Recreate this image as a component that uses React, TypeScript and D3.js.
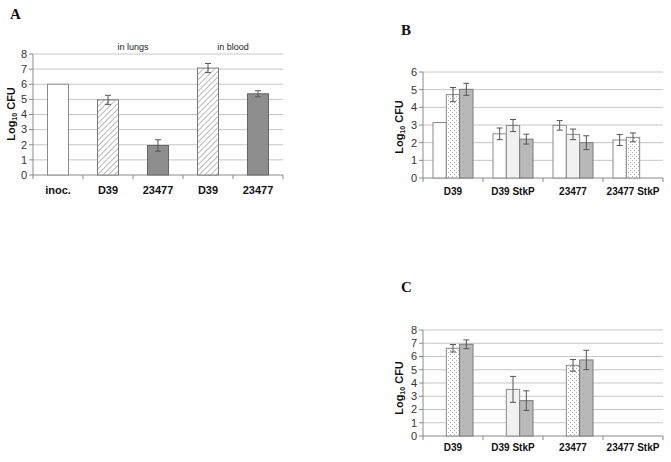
import React from "react";
import * as d3 from "d3";

// ---------- Data ----------
const catsA = ["inoc.", "D39", "23477", "D39", "23477"];
const valsA = [6.0, 4.97, 1.95, 7.07, 5.37];
const errA = [null, 0.3, 0.38, 0.3, 0.2];
const fillsA = ["white", "hatch", "dark", "hatch", "dark"];
const groupLabelsA = [
  { text: "in lungs", from: 1, to: 2 },
  { text: "in blood", from: 3, to: 4 },
];
const ticksA = [0, 1, 2, 3, 4, 5, 6, 7, 8];

const catsBC = ["D39", "D39 StkP", "23477", "23477 StkP"];

const b1 = [3.14, 2.5, 2.98, 2.15];
const b1Err = [null, 0.33, 0.27, 0.31];
const b2 = [4.72, 2.97, 2.47, 2.3];
const b2Err = [0.4, 0.34, 0.3, 0.25];
const b3 = [5.02, 2.2, 2.0, null];
const b3Err = [0.34, 0.28, 0.39, null];
const ticksB = [0, 1, 2, 3, 4, 5, 6];

const c1 = [null, null, null, null];
const c1Err = [null, null, null, null];
const c2 = [6.62, 3.52, 5.33, null];
const c2Err = [0.28, 0.98, 0.44, null];
const c3 = [6.92, 2.67, 5.74, null];
const c3Err = [0.33, 0.74, 0.73, null];
const ticksC = [0, 1, 2, 3, 4, 5, 6, 7, 8];

// fill kind of the middle series per category
const midFillB = ["dots", "light", "light", "dots"];
const midFillC = ["dots", "light", "dots", "dots"];

// ---------- Styles ----------
const FONT = "'Liberation Sans', Arial, sans-serif";
const fillOf: Record<string, string> = {
  white: "#ffffff",
  hatch: "url(#hatch)",
  dark: "#8e8e8e",
  dots: "url(#dots)",
  light: "#f1f1f1",
  gray: "#b9b9b9",
};
const strokeOf: Record<string, string> = {
  white: "#8a8a8a",
  hatch: "#7a7a7a",
  dark: "#666666",
  dots: "#8a8a8a",
  light: "#8a8a8a",
  gray: "#7a7a7a",
};

type Bar = { x: number; w: number; v: number; e: number | null; kind: string };

function Axes({ x0, x1, y, ticks, bounds, labelX, labelY, cats, catY, catSize, letter, letterX, letterY }: any) {
  const y0 = y(0);
  return (
    <g fontFamily={FONT}>
      {ticks.map((t: number) => (
        <g key={t}>
          {t > 0 && <line x1={x0} x2={x1} y1={y(t)} y2={y(t)} stroke="#c6c6c6" strokeWidth={1} />}
          <line x1={x0 - 4} x2={x0} y1={y(t)} y2={y(t)} stroke="#8a8a8a" />
          <text x={x0 - 6} y={y(t)} dy="0.35em" textAnchor="end" fontSize={11} fill="#333">
            {t}
          </text>
        </g>
      ))}
      <line x1={x0} x2={x0} y1={y(ticks[ticks.length - 1])} y2={y0} stroke="#8a8a8a" />
      <line x1={x0} x2={x1} y1={y0} y2={y0} stroke="#8a8a8a" />
      {bounds.map((bx: number, i: number) => (
        <line key={i} x1={bx} x2={bx} y1={y0} y2={y0 + 4} stroke="#8a8a8a" />
      ))}
      {cats.map((c: any, i: number) => (
        <text key={i} x={c.x} y={catY} textAnchor="middle" fontSize={catSize} fontWeight="bold" fill="#111">
          {c.label}
        </text>
      ))}
      <text
        transform={`translate(${labelX},${labelY}) rotate(-90)`}
        textAnchor="middle"
        fontSize={11}
        fontWeight="bold"
        fill="#111"
      >
        Log
        <tspan fontSize={7} dy={2}>10</tspan>
        <tspan dy={-2}> CFU</tspan>
      </text>
      <text x={letterX} y={letterY} fontFamily="'Liberation Serif', 'Times New Roman', serif" fontWeight="bold" fontSize={15} fill="#111">
        {letter}
      </text>
    </g>
  );
}

function Bars({ bars, y }: { bars: Bar[]; y: any }) {
  return (
    <g>
      {bars.map((b, i) => (
        <g key={i}>
          <rect
            x={b.x}
            y={y(b.v)}
            width={b.w}
            height={y(0) - y(b.v)}
            fill={fillOf[b.kind]}
            stroke={strokeOf[b.kind]}
            strokeWidth={1}
          />
          {b.e != null && (
            <g stroke="#555" strokeWidth={1}>
              <line x1={b.x + b.w / 2} x2={b.x + b.w / 2} y1={y(b.v + b.e)} y2={y(b.v - b.e)} />
              <line x1={b.x + b.w / 2 - 3} x2={b.x + b.w / 2 + 3} y1={y(b.v + b.e)} y2={y(b.v + b.e)} />
              <line x1={b.x + b.w / 2 - 3} x2={b.x + b.w / 2 + 3} y1={y(b.v - b.e)} y2={y(b.v - b.e)} />
            </g>
          )}
        </g>
      ))}
    </g>
  );
}

function PanelA() {
  const x = d3.scaleBand<number>().domain(d3.range(catsA.length)).range([33, 283]).paddingInner(0).paddingOuter(0);
  const y = d3.scaleLinear().domain([0, 8]).range([175, 54]);
  const step = x.step();
  const bw = 21;
  const bars: Bar[] = valsA.map((v, i) => ({
    x: (x(i) as number) + (step - bw) / 2,
    w: bw,
    v,
    e: errA[i],
    kind: fillsA[i],
  }));
  const bounds = d3.range(catsA.length + 1).map((i) => 33 + i * step);
  return (
    <g>
      <Axes
        x0={33}
        x1={283}
        y={y}
        ticks={ticksA}
        bounds={bounds}
        labelX={15}
        labelY={114}
        cats={catsA.map((c, i) => ({ label: c, x: (x(i) as number) + step / 2 }))}
        catY={194}
        catSize={11}
        letter="A"
        letterX={10}
        letterY={19}
      />
      <Bars bars={bars} y={y} />
      {groupLabelsA.map((g, i) => (
        <text
          key={i}
          x={((x(g.from) as number) + (x(g.to) as number) + step) / 2}
          y={50}
          textAnchor="middle"
          fontSize={9}
          fontFamily={FONT}
          fill="#222"
        >
          {g.text}
        </text>
      ))}
    </g>
  );
}

function PanelBC({ s1, e1, s2, e2, s3, e3, mid, ticks, yMax, yTop, yBot, labelY, catY, letter, letterY }: any) {
  const x0 = 423;
  const x1 = 663;
  const x = d3.scaleBand<number>().domain(d3.range(catsBC.length)).range([x0, x1]);
  const inner = d3.scaleBand<number>().domain([0, 1, 2]).range([10, x.step() - 10]);
  const y = d3.scaleLinear().domain([0, yMax]).range([yBot, yTop]);
  const bars: Bar[] = [];
  catsBC.forEach((_, i) => {
    const series = [
      { v: s1[i], e: e1[i], kind: "white" },
      { v: s2[i], e: e2[i], kind: mid[i] },
      { v: s3[i], e: e3[i], kind: "gray" },
    ];
    series.forEach((s, j) => {
      if (s.v == null) return;
      bars.push({ x: (x(i) as number) + (inner(j) as number), w: inner.bandwidth(), v: s.v, e: s.e, kind: s.kind });
    });
  });
  const bounds = d3.range(catsBC.length + 1).map((i) => x0 + i * x.step());
  return (
    <g>
      <Axes
        x0={x0}
        x1={x1}
        y={y}
        ticks={ticks}
        bounds={bounds}
        labelX={403}
        labelY={labelY}
        cats={catsBC.map((c, i) => ({ label: c, x: (x(i) as number) + x.step() / 2 }))}
        catY={catY}
        catSize={10}
        letter={letter}
        letterX={401}
        letterY={letterY}
      />
      <Bars bars={bars} y={y} />
    </g>
  );
}

export default function App() {
  return (
    <svg
      width={671}
      height={462}
      viewBox="0 0 671 462"
      style={{ position: "absolute", left: 0, top: 0, background: "#fff" }}
    >
      <defs>
        <pattern id="hatch" width={4} height={4} patternUnits="userSpaceOnUse" patternTransform="rotate(45)">
          <rect width={4} height={4} fill="#fff" />
          <line x1={0} y1={0} x2={0} y2={4} stroke="#8a8a8a" strokeWidth={1.2} />
        </pattern>
        <pattern id="dots" width={4} height={4} patternUnits="userSpaceOnUse">
          <rect width={4} height={4} fill="#fff" />
          <rect x={0} y={0} width={1} height={1} fill="#b0b0b0" />
          <rect x={2} y={2} width={1} height={1} fill="#b0b0b0" />
        </pattern>
      </defs>
      <rect width={671} height={462} fill="#fff" />
      <PanelA />
      <PanelBC
        s1={b1}
        e1={b1Err}
        s2={b2}
        e2={b2Err}
        s3={b3}
        e3={b3Err}
        mid={midFillB}
        ticks={ticksB}
        yMax={6}
        yTop={72}
        yBot={178}
        labelY={127}
        catY={195}
        letter="B"
        letterY={35}
      />
      <PanelBC
        s1={c1}
        e1={c1Err}
        s2={c2}
        e2={c2Err}
        s3={c3}
        e3={c3Err}
        mid={midFillC}
        ticks={ticksC}
        yMax={8}
        yTop={330}
        yBot={436}
        labelY={388}
        catY={451}
        letter="C"
        letterY={292}
      />
    </svg>
  );
}
